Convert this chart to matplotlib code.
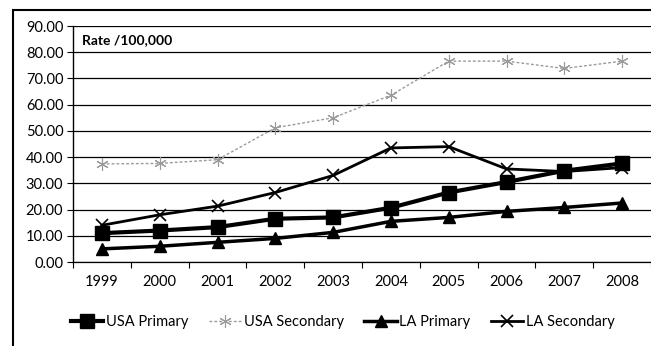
import matplotlib
matplotlib.use("Agg")
import matplotlib.pyplot as plt
from matplotlib.patches import Rectangle

plt.rcParams['font.family'] = ['Lato', 'DejaVu Sans']

years = ["1999", "2000", "2001", "2002", "2003", "2004", "2005", "2006", "2007", "2008"]
usa_primary = [11.0, 12.0, 13.3, 16.5, 17.0, 20.7, 26.5, 30.5, 34.8, 37.6]
usa_secondary = [37.4, 37.6, 39.0, 51.2, 55.0, 63.6, 76.6, 76.6, 73.8, 76.6]
la_primary = [5.0, 6.0, 7.5, 9.0, 11.3, 15.5, 17.0, 19.3, 20.8, 22.5]
la_secondary = [14.0, 18.0, 21.3, 26.5, 33.0, 43.5, 44.0, 35.5, 34.5, 36.0]

W, H = 651, 346
fig = plt.figure(figsize=(W / 100, H / 100), dpi=100)
fig.patch.set_facecolor("white")

ax = fig.add_axes([73 / W, 1 - 262 / H, (651 - 73) / W, (262 - 26) / H])
x = list(range(len(years)))

ax.set_xlim(-0.5, len(years) - 0.5)
ax.set_ylim(0, 90)
ax.set_yticks(range(0, 91, 10))
ax.set_yticklabels([f"{v:.2f}" for v in range(0, 91, 10)])
ax.set_xticks(x)
ax.set_xticklabels(years)
ax.set_xticks([i + 0.5 for i in range(-1, len(years))], minor=True)
ax.tick_params(axis="x", which="major", length=0, pad=9, labelsize=10.5)
ax.tick_params(axis="x", which="minor", length=4, direction="out", width=0.8)
ax.tick_params(axis="y", length=4, width=0.8, labelsize=10.5, pad=3)
ax.grid(axis="y", color="black", linewidth=0.9)
ax.set_axisbelow(True)
for s in ["top", "right"]:
    ax.spines[s].set_visible(False)
ax.spines["left"].set_linewidth(1.0)
ax.spines["bottom"].set_linewidth(0.9)

ax.plot(x, usa_primary, color="black", linewidth=3, marker="s", markersize=10,
        label="USA Primary", zorder=4)
ax.plot(x, usa_secondary, color="#9a9a9a", linewidth=1.0, linestyle=(0, (2, 1.5)),
        marker=(6, 2, 0), markersize=9, markeredgewidth=0.8, label="USA Secondary", zorder=3)
ax.plot(x, la_primary, color="black", linewidth=2.5, marker="^", markersize=8,
        label="LA Primary", zorder=4)
ax.plot(x, la_secondary, color="black", linewidth=2.0, marker="x", markersize=9,
        markeredgewidth=1.2, label="LA Secondary", zorder=4)

ax.text(82 / W, 1 - 40 / H, "Rate /100,000", transform=fig.transFigure,
        fontsize=10, fontweight="bold", va="center", ha="left")

fig.legend(loc="center", bbox_to_anchor=(343 / W, 1 - 322 / H), ncol=4,
           frameon=False, fontsize=10.5, handlelength=2.2, columnspacing=1.4,
           handletextpad=0.2)

fig.add_artist(Rectangle((13 / W, -0.1), 1.2, 1 - 10 / H + 0.1,
                         transform=fig.transFigure, fill=False,
                         edgecolor="black", linewidth=1.5))

fig.savefig("out.png", dpi=100)
